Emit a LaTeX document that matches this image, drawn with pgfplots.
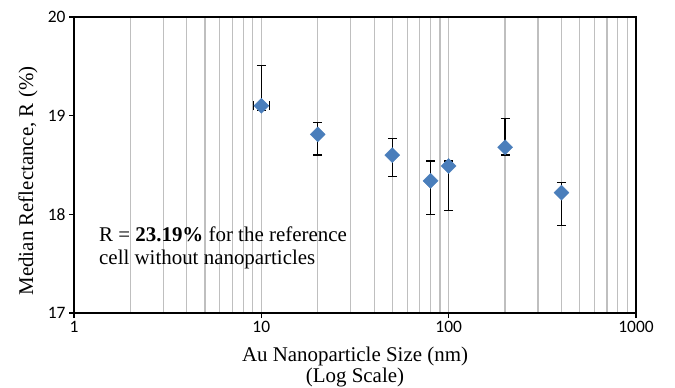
\documentclass[border=0pt]{standalone}
\usepackage{fontspec}
\setmainfont{Liberation Serif}
\newfontfamily\carlito{Carlito}
\usepackage{pgfplots}
\pgfplotsset{compat=1.18}
\definecolor{markblue}{HTML}{4A7EBB}
\definecolor{gridgray}{HTML}{BFBFBF}
\begin{document}
\begin{tikzpicture}
\begin{axis}[
  at={(0,0)}, anchor=south west,
  scale only axis, width=562bp, height=296bp,
  xmode=log, log basis x=10,
  xmin=1, xmax=1000, ymin=17, ymax=20,
  xtick={1,10,100,1000}, xticklabels={1,10,100,1000},
  ytick={17,18,19,20}, yticklabels={17,18,19,20},
  minor xtick={2,3,4,5,6,7,8,9,20,30,40,50,60,70,80,90,200,300,400,500,600,700,800,900},
  xminorgrids, xmajorgrids,
  grid style={gridgray, line width=1.2bp},
  minor grid style={gridgray, line width=1.2bp},
  tick pos=left, tick align=outside,
  major tick length=5bp, minor tick length=0pt,
  tick style={black, line width=1.2bp},
  axis line style={black, line width=1.2bp},
  ticklabel style={font=\carlito\fontsize{17.5}{18}\selectfont},
  xlabel={Au Nanoparticle Size (nm)\\(Log Scale)},
  xlabel style={font=\fontsize{21}{21.5}\selectfont, align=center, at={(axis description cs:0.5,-0.113)}, anchor=north, inner sep=0pt},
  ylabel={Median Reflectance, R (\%)},
  ylabel style={font=\fontsize{21}{22}\selectfont, at={(axis description cs:-0.082,0.446)}, anchor=center, inner sep=0pt},
  clip=false,
]
% point with x and y error bars
\addplot[only marks, mark=square*, mark size=5.3bp, mark options={rotate=45, fill=markblue, draw=markblue},
  error bars/.cd, x dir=both, x explicit, y dir=both, y explicit,
  error bar style={black, line width=1.3bp},
  error mark options={black, line width=1.3bp, mark size=4.5bp, rotate=90}]
  table[x=x, y=y, x error plus=xp, x error minus=xm, y error plus=yp, y error minus=ym] {
x y xp xm yp ym
10 19.10 1.1 0.9 0.41 0.05
};
% points with y error bars only
\addplot[only marks, mark=square*, mark size=5.3bp, mark options={rotate=45, fill=markblue, draw=markblue},
  error bars/.cd, y dir=both, y explicit,
  error bar style={black, line width=1.3bp},
  error mark options={black, line width=1.3bp, mark size=4.5bp, rotate=90}]
  table[x=x, y=y, y error plus=yp, y error minus=ym] {
x y yp ym
20 18.81 0.12 0.21
50 18.60 0.17 0.22
80 18.34 0.20 0.34
100 18.49 0.05 0.45
200 18.68 0.29 0.08
400 18.22 0.10 0.33
};
\node[anchor=north west, inner sep=0pt, align=left, font=\fontsize{21}{23}\selectfont]
  at (axis description cs:0.0445,0.292) {R = \textbf{23.19\%} for the reference\\cell without nanoparticles};
\end{axis}
\path (-74bp,-75bp) rectangle (601bp,313bp);
\end{tikzpicture}
\end{document}
